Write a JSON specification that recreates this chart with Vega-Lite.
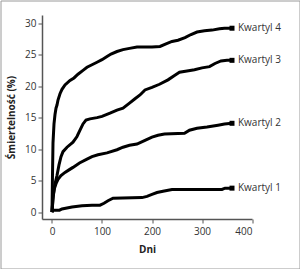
{
  "$schema": "https://vega.github.io/schema/vega-lite/v6.json",
  "autosize": "none",
  "padding": {"left": 0.5, "top": 0.5, "right": 0.5, "bottom": 0.5},
  "width": 299,
  "height": 268,
  "background": "white",
  "config": {
    "view": {"stroke": "#9a9a9a", "strokeWidth": 1},
    "font": "Open Sans",
    "axis": {
      "labelFont": "Open Sans",
      "labelFontSize": 10,
      "labelColor": "#333",
      "titleFont": "Open Sans",
      "titleFontSize": 10,
      "titleFontWeight": "bold",
      "titleColor": "#222",
      "domainColor": "#555",
      "domainWidth": 1.5,
      "tickColor": "#555",
      "tickSize": 4,
      "grid": false
    }
  },
  "data": {
    "values": [
      {"q": "Kwartyl 1", "d": 0, "v": 0}, {"q": "Kwartyl 1", "d": 3, "v": 0.3}, {"q": "Kwartyl 1", "d": 15, "v": 0.3}, {"q": "Kwartyl 1", "d": 20, "v": 0.5}, {"q": "Kwartyl 1", "d": 40, "v": 0.8}, {"q": "Kwartyl 1", "d": 60, "v": 1.0}, {"q": "Kwartyl 1", "d": 80, "v": 1.1}, {"q": "Kwartyl 1", "d": 96, "v": 1.1}, {"q": "Kwartyl 1", "d": 104, "v": 1.4}, {"q": "Kwartyl 1", "d": 112, "v": 1.8}, {"q": "Kwartyl 1", "d": 122, "v": 2.2}, {"q": "Kwartyl 1", "d": 180, "v": 2.3}, {"q": "Kwartyl 1", "d": 190, "v": 2.5}, {"q": "Kwartyl 1", "d": 200, "v": 2.8}, {"q": "Kwartyl 1", "d": 210, "v": 3.1}, {"q": "Kwartyl 1", "d": 222, "v": 3.3}, {"q": "Kwartyl 1", "d": 240, "v": 3.6}, {"q": "Kwartyl 1", "d": 340, "v": 3.6}, {"q": "Kwartyl 1", "d": 346, "v": 3.8}, {"q": "Kwartyl 1", "d": 360, "v": 3.8},
      {"q": "Kwartyl 2", "d": 0, "v": 0}, {"q": "Kwartyl 2", "d": 2, "v": 2.5}, {"q": "Kwartyl 2", "d": 5, "v": 3.8}, {"q": "Kwartyl 2", "d": 8, "v": 4.5}, {"q": "Kwartyl 2", "d": 12, "v": 5.2}, {"q": "Kwartyl 2", "d": 18, "v": 5.8}, {"q": "Kwartyl 2", "d": 26, "v": 6.3}, {"q": "Kwartyl 2", "d": 34, "v": 6.7}, {"q": "Kwartyl 2", "d": 42, "v": 7.1}, {"q": "Kwartyl 2", "d": 55, "v": 7.8}, {"q": "Kwartyl 2", "d": 70, "v": 8.4}, {"q": "Kwartyl 2", "d": 80, "v": 8.8}, {"q": "Kwartyl 2", "d": 92, "v": 9.1}, {"q": "Kwartyl 2", "d": 110, "v": 9.4}, {"q": "Kwartyl 2", "d": 130, "v": 9.9}, {"q": "Kwartyl 2", "d": 142, "v": 10.3}, {"q": "Kwartyl 2", "d": 155, "v": 10.6}, {"q": "Kwartyl 2", "d": 170, "v": 10.8}, {"q": "Kwartyl 2", "d": 186, "v": 11.4}, {"q": "Kwartyl 2", "d": 200, "v": 11.9}, {"q": "Kwartyl 2", "d": 212, "v": 12.2}, {"q": "Kwartyl 2", "d": 225, "v": 12.4}, {"q": "Kwartyl 2", "d": 265, "v": 12.5}, {"q": "Kwartyl 2", "d": 275, "v": 13.0}, {"q": "Kwartyl 2", "d": 290, "v": 13.3}, {"q": "Kwartyl 2", "d": 310, "v": 13.5}, {"q": "Kwartyl 2", "d": 332, "v": 13.8}, {"q": "Kwartyl 2", "d": 345, "v": 14.0}, {"q": "Kwartyl 2", "d": 360, "v": 14.1},
      {"q": "Kwartyl 3", "d": 0, "v": 0}, {"q": "Kwartyl 3", "d": 2, "v": 2}, {"q": "Kwartyl 3", "d": 4, "v": 3.5}, {"q": "Kwartyl 3", "d": 6, "v": 4.5}, {"q": "Kwartyl 3", "d": 10, "v": 5.8}, {"q": "Kwartyl 3", "d": 14, "v": 7.5}, {"q": "Kwartyl 3", "d": 18, "v": 8.8}, {"q": "Kwartyl 3", "d": 22, "v": 9.6}, {"q": "Kwartyl 3", "d": 30, "v": 10.3}, {"q": "Kwartyl 3", "d": 42, "v": 11.1}, {"q": "Kwartyl 3", "d": 50, "v": 12.0}, {"q": "Kwartyl 3", "d": 56, "v": 13.0}, {"q": "Kwartyl 3", "d": 62, "v": 14.0}, {"q": "Kwartyl 3", "d": 68, "v": 14.6}, {"q": "Kwartyl 3", "d": 76, "v": 14.8}, {"q": "Kwartyl 3", "d": 90, "v": 15.0}, {"q": "Kwartyl 3", "d": 100, "v": 15.2}, {"q": "Kwartyl 3", "d": 116, "v": 15.7}, {"q": "Kwartyl 3", "d": 130, "v": 16.2}, {"q": "Kwartyl 3", "d": 142, "v": 16.5}, {"q": "Kwartyl 3", "d": 155, "v": 17.3}, {"q": "Kwartyl 3", "d": 166, "v": 18.0}, {"q": "Kwartyl 3", "d": 176, "v": 18.6}, {"q": "Kwartyl 3", "d": 186, "v": 19.4}, {"q": "Kwartyl 3", "d": 200, "v": 19.8}, {"q": "Kwartyl 3", "d": 215, "v": 20.3}, {"q": "Kwartyl 3", "d": 232, "v": 21.0}, {"q": "Kwartyl 3", "d": 245, "v": 21.7}, {"q": "Kwartyl 3", "d": 255, "v": 22.2}, {"q": "Kwartyl 3", "d": 270, "v": 22.4}, {"q": "Kwartyl 3", "d": 285, "v": 22.6}, {"q": "Kwartyl 3", "d": 300, "v": 22.9}, {"q": "Kwartyl 3", "d": 315, "v": 23.1}, {"q": "Kwartyl 3", "d": 326, "v": 23.6}, {"q": "Kwartyl 3", "d": 338, "v": 24.0}, {"q": "Kwartyl 3", "d": 350, "v": 24.1}, {"q": "Kwartyl 3", "d": 360, "v": 24.1},
      {"q": "Kwartyl 4", "d": 0, "v": 0}, {"q": "Kwartyl 4", "d": 1, "v": 6}, {"q": "Kwartyl 4", "d": 2, "v": 11}, {"q": "Kwartyl 4", "d": 4, "v": 14}, {"q": "Kwartyl 4", "d": 6, "v": 15.5}, {"q": "Kwartyl 4", "d": 8, "v": 16.5}, {"q": "Kwartyl 4", "d": 10, "v": 17}, {"q": "Kwartyl 4", "d": 12, "v": 17.8}, {"q": "Kwartyl 4", "d": 16, "v": 18.8}, {"q": "Kwartyl 4", "d": 20, "v": 19.5}, {"q": "Kwartyl 4", "d": 26, "v": 20.2}, {"q": "Kwartyl 4", "d": 36, "v": 20.9}, {"q": "Kwartyl 4", "d": 44, "v": 21.3}, {"q": "Kwartyl 4", "d": 52, "v": 21.9}, {"q": "Kwartyl 4", "d": 62, "v": 22.5}, {"q": "Kwartyl 4", "d": 70, "v": 23.0}, {"q": "Kwartyl 4", "d": 80, "v": 23.4}, {"q": "Kwartyl 4", "d": 90, "v": 23.8}, {"q": "Kwartyl 4", "d": 100, "v": 24.2}, {"q": "Kwartyl 4", "d": 110, "v": 24.7}, {"q": "Kwartyl 4", "d": 118, "v": 25.1}, {"q": "Kwartyl 4", "d": 130, "v": 25.5}, {"q": "Kwartyl 4", "d": 142, "v": 25.8}, {"q": "Kwartyl 4", "d": 155, "v": 26.0}, {"q": "Kwartyl 4", "d": 170, "v": 26.2}, {"q": "Kwartyl 4", "d": 200, "v": 26.2}, {"q": "Kwartyl 4", "d": 216, "v": 26.3}, {"q": "Kwartyl 4", "d": 228, "v": 26.7}, {"q": "Kwartyl 4", "d": 240, "v": 27.1}, {"q": "Kwartyl 4", "d": 252, "v": 27.3}, {"q": "Kwartyl 4", "d": 266, "v": 27.7}, {"q": "Kwartyl 4", "d": 278, "v": 28.2}, {"q": "Kwartyl 4", "d": 290, "v": 28.6}, {"q": "Kwartyl 4", "d": 305, "v": 28.8}, {"q": "Kwartyl 4", "d": 320, "v": 28.9}, {"q": "Kwartyl 4", "d": 335, "v": 29.1}, {"q": "Kwartyl 4", "d": 345, "v": 29.2}, {"q": "Kwartyl 4", "d": 360, "v": 29.2}
    ]
  },
  "encoding": {
    "x": {"field": "d", "type": "quantitative",
      "scale": {"domain": [-20, 400], "nice": false, "range": [41.5, 251.5]},
      "axis": {"title": "Dni", "values": [0, 100, 200, 300, 400], "labelPadding": 3, "titlePadding": 8, "offset": -49.5}},
    "y": {"field": "v", "type": "quantitative",
      "scale": {"domain": [-1.1, 31.3], "nice": false, "range": [218.5, 14.5]},
      "axis": {"title": "Śmiertelność (%)", "values": [0, 5, 10, 15, 20, 25, 30], "labelPadding": 2, "titlePadding": 8, "offset": -41.5}}
  },
  "layer": [
    {
      "mark": {"type": "line", "color": "black", "strokeWidth": 3, "strokeJoin": "miter"},
      "encoding": {"detail": {"field": "q"}}
    },
    {
      "transform": [{"filter": "datum.d == 360"}],
      "mark": {"type": "point", "shape": "square", "filled": true, "color": "black", "size": 25, "opacity": 1}
    },
    {
      "transform": [{"filter": "datum.d == 360"}],
      "mark": {"type": "text", "align": "left", "baseline": "middle", "dx": 6, "fontSize": 10, "font": "Open Sans", "color": "#333"},
      "encoding": {"text": {"field": "q"}}
    }
  ]
}
